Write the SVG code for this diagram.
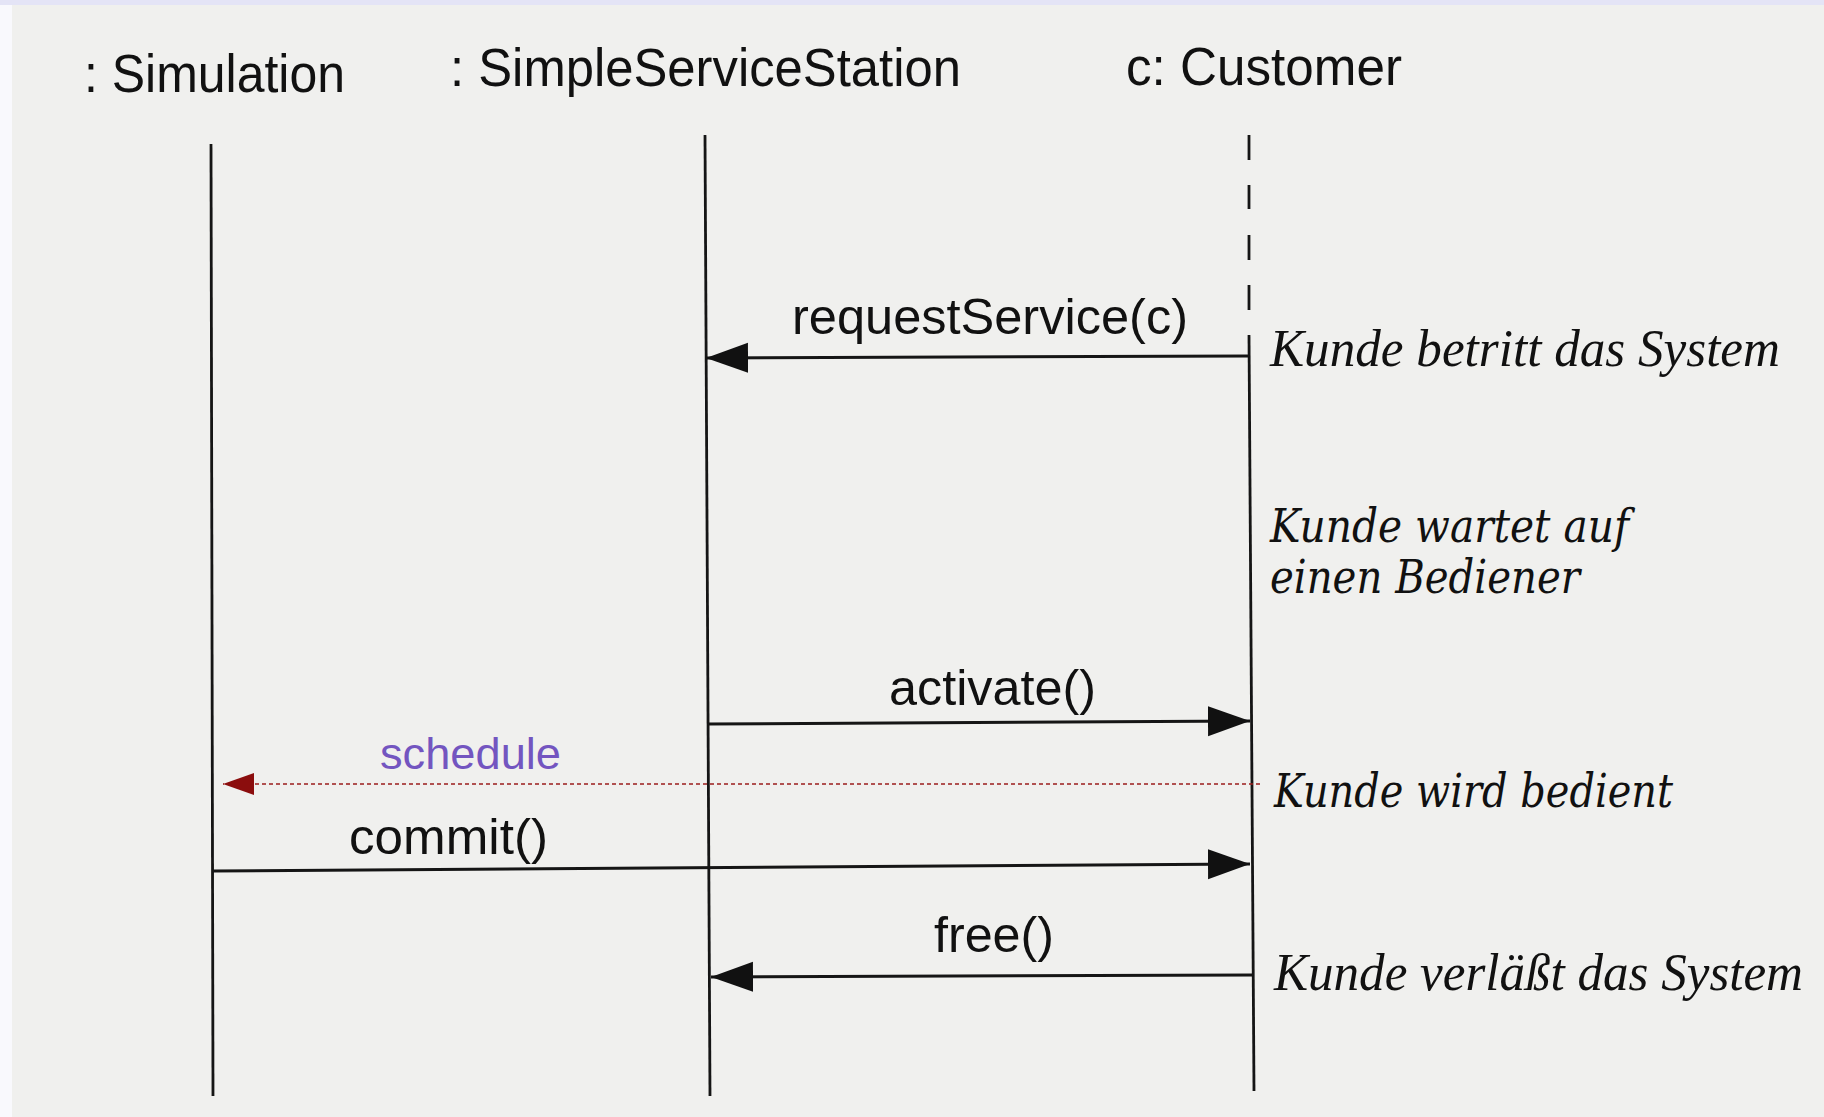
<svg xmlns="http://www.w3.org/2000/svg" width="1824" height="1117" viewBox="0 0 1824 1117">
  <style>
    .head { font-family: "Liberation Sans", Arial, sans-serif; font-size: 53px; fill: #111; }
    .msg { font-family: "Liberation Sans", Arial, sans-serif; font-size: 50px; fill: #111; }
    .sched { font-family: "Liberation Sans", Arial, sans-serif; font-size: 44px; fill: #7355c0; }
    .note { font-family: "Liberation Serif", "Times New Roman", serif; font-style: italic; font-size: 53px; fill: #111; }
    .note2 { font-family: "DejaVu Serif", "Liberation Serif", serif; font-style: italic; font-size: 46px; fill: #111; }
    .life { stroke: #151515; stroke-width: 2.8; fill: none; }
    .call { stroke: #151515; stroke-width: 3; fill: none; }
    .async { stroke: #9a1c1c; stroke-width: 1.6; stroke-dasharray: 4 3; fill: none; }
  </style>
  <defs>
    <marker id="head" markerUnits="userSpaceOnUse" markerWidth="44" markerHeight="32" refX="42" refY="15" orient="auto">
      <path d="M0,0 L42,15 L0,30 z" fill="#111"/>
    </marker>
    <marker id="head-red" markerUnits="userSpaceOnUse" markerWidth="34" markerHeight="24" refX="31" refY="11" orient="auto">
      <path d="M0,0 L31,11 L0,22 z" fill="#8b0d0d"/>
    </marker>
  </defs>

  <!-- paper background -->
  <rect x="0" y="0" width="1824" height="1117" fill="#f0f0ee"/>
  <rect x="0" y="0" width="12" height="1117" fill="#f9f9fd"/>
  <rect x="0" y="0" width="1824" height="5" fill="#e4e4f6"/>

  <!-- participants -->
  <g id="simulation">
    <text class="head" x="84" y="92" textLength="261" lengthAdjust="spacingAndGlyphs">: Simulation</text>
    <line class="life" x1="211" y1="144" x2="213" y2="1096"/>
  </g>
  <g id="service-station">
    <text class="head" x="450" y="86" textLength="511" lengthAdjust="spacingAndGlyphs">: SimpleServiceStation</text>
    <line class="life" x1="705" y1="135" x2="710" y2="1096"/>
  </g>
  <g id="customer">
    <text class="head" x="1126" y="85" textLength="276" lengthAdjust="spacingAndGlyphs">c: Customer</text>
    <line class="life" x1="1249" y1="135" x2="1249" y2="160"/>
    <line class="life" x1="1249" y1="185" x2="1249" y2="209"/>
    <line class="life" x1="1249" y1="235" x2="1249" y2="260"/>
    <line class="life" x1="1249" y1="285" x2="1249" y2="310"/>
    <line class="life" x1="1249" y1="335" x2="1254" y2="1091"/>
  </g>

  <!-- state notes beside the customer lifeline -->
  <g id="notes">
    <text class="note" x="1270" y="366" textLength="510" lengthAdjust="spacingAndGlyphs">Kunde betritt das System</text>
    <text class="note2" x="1270" y="542" textLength="359" lengthAdjust="spacingAndGlyphs">Kunde wartet auf</text>
    <text class="note2" x="1270" y="593" textLength="310" lengthAdjust="spacingAndGlyphs">einen Bediener</text>
    <text class="note2" x="1274" y="807" textLength="399" lengthAdjust="spacingAndGlyphs">Kunde wird bedient</text>
    <text class="note" x="1274" y="990" textLength="529" lengthAdjust="spacingAndGlyphs">Kunde verläßt das System</text>
  </g>

  <!-- messages -->
  <g id="connectors">
    <line class="call" x1="1249" y1="356" x2="706" y2="358" marker-end="url(#head)"/>
    <text class="msg" x="792" y="334" textLength="396" lengthAdjust="spacingAndGlyphs">requestService(c)</text>

    <line class="call" x1="707" y1="724" x2="1250" y2="721" marker-end="url(#head)"/>
    <text class="msg" x="889" y="705" textLength="207" lengthAdjust="spacingAndGlyphs">activate()</text>

    <line class="async" x1="1260" y1="784" x2="223" y2="784" marker-end="url(#head-red)"/>
    <text class="sched" x="380" y="769" textLength="181" lengthAdjust="spacingAndGlyphs">schedule</text>

    <line class="call" x1="213" y1="871" x2="1250" y2="864" marker-end="url(#head)"/>
    <text class="msg" x="349" y="854" textLength="199" lengthAdjust="spacingAndGlyphs">commit()</text>

    <line class="call" x1="1253" y1="975" x2="711" y2="977" marker-end="url(#head)"/>
    <text class="msg" x="934" y="952" textLength="120" lengthAdjust="spacingAndGlyphs">free()</text>
  </g>
</svg>
